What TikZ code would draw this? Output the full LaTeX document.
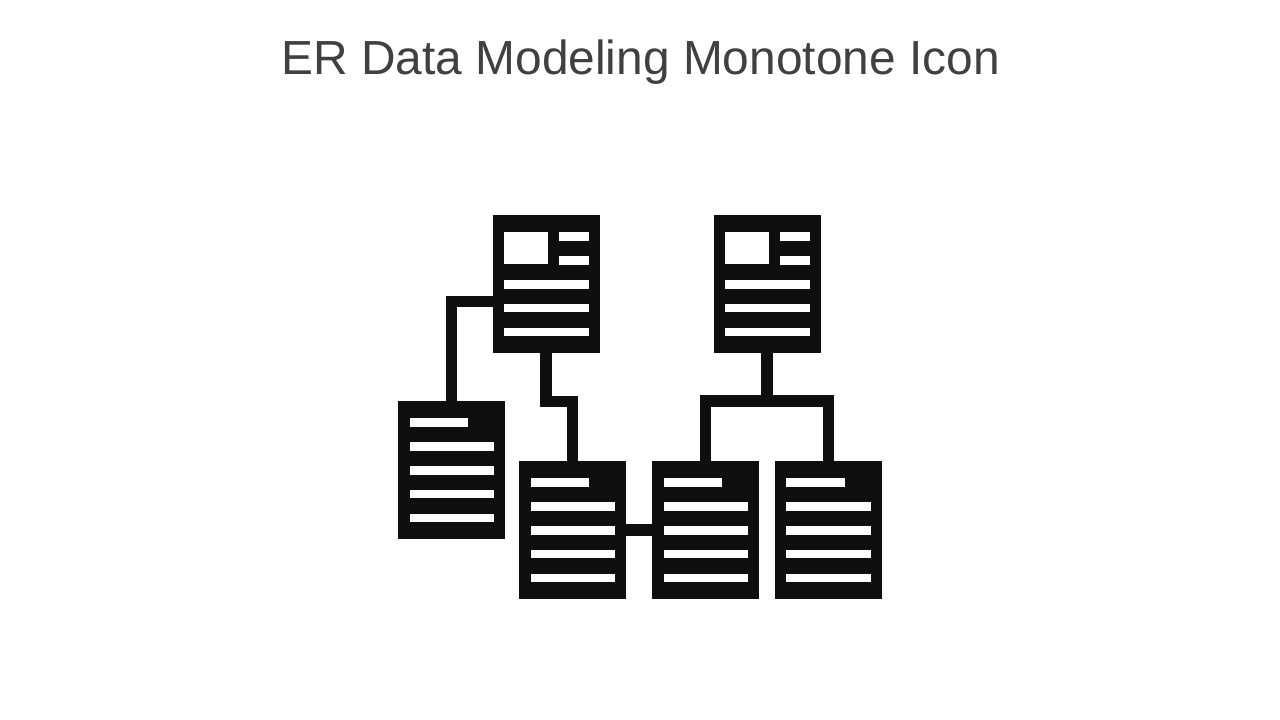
\documentclass[tikz,border=0pt]{standalone}
\usepackage{fontspec}
\setmainfont{Liberation Sans}
\definecolor{ink}{HTML}{0F0F0F}
\definecolor{titlegrey}{HTML}{404040}
\tikzset{
  docbox/.style={rectangle,fill=ink,draw=none,inner sep=0pt,outer sep=0pt,minimum width=107.2pt,minimum height=138pt,anchor=north west},
  link/.style={draw=ink,line width=11.5pt,line cap=butt,line join=miter},
  titletext/.style={text=titlegrey,font=\fontsize{47.85}{58}\selectfont,inner sep=0pt,outer sep=0pt},
  bar/.style={fill=white}
}
% bar: doc name, x offset, y offset, width, height (pixels, from the doc's top left)
\newcommand{\docbar}[5]{\fill[bar] ([shift={(#2,#3)}]#1.north west) rectangle ([shift={(#2+#4,#3+#5)}]#1.north west);}
\newcommand{\rowdoc}[1]{%
  \docbar{#1}{11.5}{17.3}{58.5}{8.3}
  \docbar{#1}{11.5}{41.2}{84.5}{8.3}
  \docbar{#1}{11.5}{65.2}{84.5}{8.3}
  \docbar{#1}{11.5}{89.1}{84.5}{8.3}
  \docbar{#1}{11.5}{113}{84.5}{8.3}}
\newcommand{\imgdoc}[1]{%
  \docbar{#1}{11.5}{17.3}{43.5}{32}
  \docbar{#1}{66.5}{17.3}{29.5}{8.3}
  \docbar{#1}{66.5}{41.2}{29.5}{8.3}
  \docbar{#1}{11.5}{65.2}{84.5}{8.3}
  \docbar{#1}{11.5}{89.1}{84.5}{8.3}
  \docbar{#1}{11.5}{113}{84.5}{8.3}}
\begin{document}
\begin{tikzpicture}[x=1pt,y=-1pt]
\useasboundingbox (0,0) rectangle (1280,720);
\fill[white] (0,0) rectangle (1280,720);
\node[titletext] (title) at (640.7,62.2) {ER Data Modeling Monotone Icon};
\node[docbox] (top1) at (492.5,215) {};
\node[docbox] (top2) at (713.5,215) {};
\node[docbox] (left) at (398,401) {};
\node[docbox] (low1) at (519,461) {};
\node[docbox] (low2) at (652,461) {};
\node[docbox] (low3) at (774.9,461) {};
\coordinate (tap) at ([shift={(0,17.3)}]top1.west);
\coordinate (busy) at ([shift={(0,47.8)}]top2.south);
\coordinate (jog) at ([shift={(0,48.5)}]top1.south);
\coordinate (jogb) at (low1.north |- jog);
\coordinate (bustl) at (low2.north |- busy);
\coordinate (bustr) at (low3.north |- busy);
\draw[link] (tap) -| (left.north);
\draw[link] (top1.south) -- (jog) -- (jogb) -- (low1.north);
\draw[link] (top2.south) -- (busy);
\draw[link] (low2.north) -- (bustl) -- (bustr) -- (low3.north);
\draw[link] (low1.east) -- (low2.west);
\imgdoc{top1}
\imgdoc{top2}
\rowdoc{left}
\rowdoc{low1}
\rowdoc{low2}
\rowdoc{low3}
\end{tikzpicture}
\end{document}
